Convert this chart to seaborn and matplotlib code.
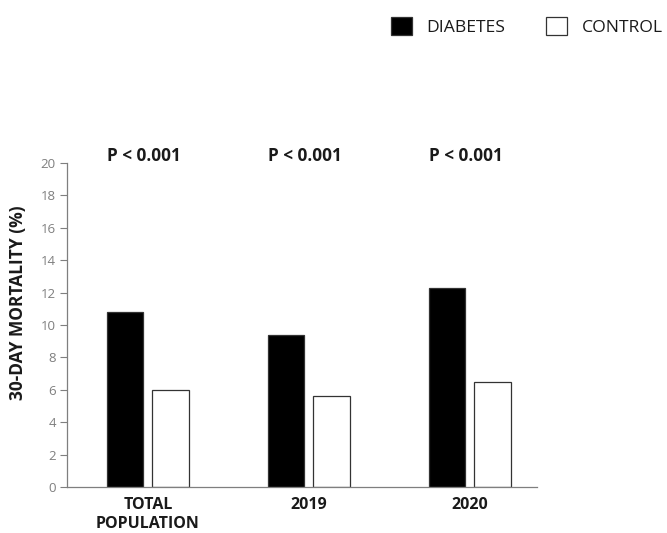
import matplotlib
matplotlib.use("Agg")
import matplotlib.pyplot as plt
import seaborn as sns
import pandas as pd

# 30-day mortality by cohort
groups = ["TOTAL\nPOPULATION", "2019", "2020"]
diabetes = [10.8, 9.4, 12.3]
control = [6.0, 5.6, 6.5]
series_names = ["DIABETES", "CONTROL"]
p_labels = ["P < 0.001", "P < 0.001", "P < 0.001"]
y_ticks = [0, 2, 4, 6, 8, 10, 12, 14, 16, 18, 20]

df = pd.DataFrame({
    "group": groups * 2,
    "series": [series_names[0]] * 3 + [series_names[1]] * 3,
    "value": diabetes + control,
})

sns.set_theme(style="white")
plt.rcParams["font.family"] = ["Open Sans", "DejaVu Sans"]

fig = plt.figure(figsize=(6.67, 5.33), dpi=100)
ax = fig.add_axes([0.1004, 0.0863, 0.7046, 0.6079])

sns.barplot(
    data=df, x="group", y="value", hue="series", order=groups,
    hue_order=series_names, palette={"DIABETES": "black", "CONTROL": "white"},
    width=0.56, gap=0.2, edgecolor="#333333", linewidth=0.9,
    legend=True, ax=ax,
)

ax.set_ylim(0, 20)
ax.set_xlim(-0.503, 2.416)
ax.set_yticks(y_ticks)
ax.set_yticklabels([str(t) for t in y_ticks], color="#7f7f7f", fontsize=9.5)
ax.tick_params(axis="y", length=5, width=0.8, color="#7f7f7f", pad=3, left=True)
ax.tick_params(axis="x", length=0, pad=7)
for lbl in ax.get_xticklabels():
    lbl.set_fontweight("bold")
    lbl.set_fontsize(11.5)
    lbl.set_color("#1a1a1a")
    lbl.set_linespacing(1.3)

ax.set_xlabel("")
ax.set_ylabel("30-DAY MORTALITY (%)", fontsize=12.5, fontweight="bold",
              color="#1a1a1a")
ax.yaxis.set_label_coords(-0.085, 0.568)

for side in ["top", "right"]:
    ax.spines[side].set_visible(False)
for side in ["left", "bottom"]:
    ax.spines[side].set_color("#7f7f7f")
    ax.spines[side].set_linewidth(0.9)

# significance labels above each group
for i, txt in enumerate(p_labels):
    ax.text(i - 0.025, 20.45, txt, ha="center", va="center", fontsize=12.3,
            fontweight="bold", color="#1a1a1a", clip_on=False)

handles, labels = ax.get_legend_handles_labels()
ax.get_legend().remove()
for h in handles:
    h.set_edgecolor("#333333")
fig.legend(handles, labels, loc="center left", bbox_to_anchor=(0.562, 0.951),
           ncol=2, frameon=False, fontsize=12.6, handlelength=1.25,
           handleheight=1.25, handletextpad=0.8, columnspacing=2.3,
           labelcolor="#1a1a1a")

fig.savefig("out.png", dpi=100, facecolor="white")
